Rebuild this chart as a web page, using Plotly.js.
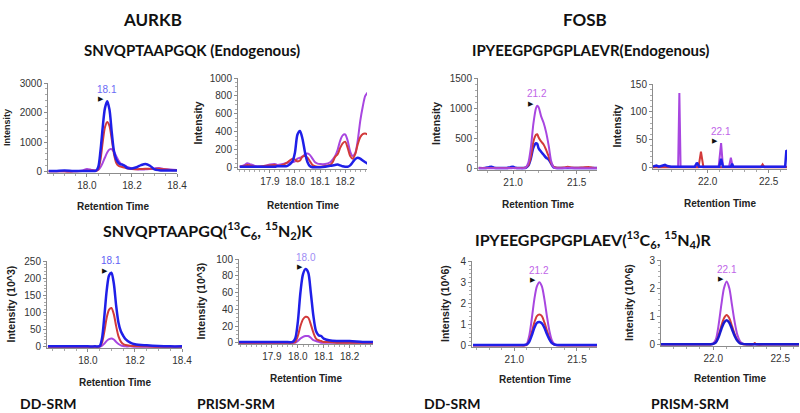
<!DOCTYPE html>
<html><head><meta charset="utf-8">
<script src="https://cdn.plot.ly/plotly-3.0.1.min.js"></script>
<style>html,body{margin:0;padding:0;background:#fff}#c{width:800px;height:413px}</style>
</head><body><div id="c"></div>
<script>
// ---------- DATA ----------
// Panel 1: AURKB endogenous, DD-SRM
const p1_x = [17.83,17.86,17.9,17.94,17.98,18.0,18.02,18.04,18.05,18.06,18.07,18.08,18.09,18.1,18.11,18.12,18.13,18.14,18.15,18.16,18.17,18.18,18.2,18.22,18.24,18.26,18.28,18.3,18.32,18.34,18.37,18.4];
const p1_blue = [20,20,40,20,20,20,20,30,150,700,1500,2150,2380,2100,1350,700,420,300,250,230,180,120,110,150,220,260,200,80,50,40,40,40];
const p1_red = [10,10,10,10,20,30,40,30,80,400,1000,1500,1680,1550,1100,600,300,200,170,150,130,110,90,80,90,100,100,90,100,80,60,50];
const p1_purple = [10,10,10,10,40,90,60,40,60,150,300,480,650,750,760,680,520,380,280,230,200,160,110,80,70,80,90,110,120,90,70,60];
// Panel 2: AURKB endogenous, PRISM-SRM
const p2_x = [17.78,17.8,17.81,17.82,17.84,17.86,17.88,17.9,17.92,17.93,17.95,17.97,17.99,18.0,18.01,18.02,18.03,18.04,18.05,18.06,18.07,18.08,18.09,18.1,18.12,18.14,18.15,18.16,18.17,18.18,18.19,18.2,18.21,18.22,18.23,18.24,18.25,18.26,18.27,18.28,18.29];
const p2_blue = [10,10,10,10,10,10,10,10,10,15,15,20,70,170,370,410,320,170,60,15,5,5,5,5,10,20,25,30,35,25,15,10,10,25,60,95,110,100,80,60,45];
const p2_red = [10,20,30,25,10,10,20,25,30,20,30,60,100,90,70,80,125,130,110,70,30,15,10,10,20,30,60,120,150,220,270,290,220,130,100,150,260,340,375,380,370];
const p2_purple = [10,30,50,40,20,15,20,35,40,30,40,55,60,70,100,110,120,150,157,140,100,60,45,40,40,60,90,130,200,300,360,370,300,180,130,160,300,520,680,800,840];
// Panel 3: FOSB endogenous, DD-SRM
const p3_x = [20.73,20.78,20.81,20.83,20.85,20.9,20.95,20.98,21.0,21.02,21.05,21.08,21.1,21.12,21.14,21.16,21.18,21.19,21.2,21.22,21.24,21.26,21.28,21.3,21.32,21.35,21.4,21.43,21.46,21.5,21.55,21.6,21.63,21.66];
const p3_blue = [10,10,25,30,15,10,10,25,30,15,10,10,15,50,170,350,420,410,340,280,230,180,150,80,20,10,10,10,10,10,10,10,10,10];
const p3_red = [10,10,10,10,10,10,10,10,10,10,10,10,20,60,200,450,560,570,520,450,400,310,200,90,30,15,20,30,20,15,20,25,15,10];
const p3_purple = [5,5,5,5,5,5,5,5,10,5,5,5,20,100,350,750,1000,1040,1020,870,760,600,380,120,20,5,10,15,10,5,5,5,5,5];
// Panel 4: FOSB endogenous, PRISM-SRM
const p4_purple_x = [21.552,21.758,21.768,21.778,22.09,22.11,22.125,22.175,22.19,22.205,22.65];
const p4_purple = [2,2,134,2,2,44,2,2,18,2,2];
const p4_red_x = [21.552,21.925,21.945,21.965,22.435,22.45,22.465,22.65];
const p4_red = [1,1,29,1,1,6,1,1];
const p4_blue_x = [21.552,21.58,21.6,21.63,21.65,21.67,21.7,21.895,21.912,21.93,22.095,22.11,22.125,22.19,22.2,22.21,22.635,22.645,22.65];
const p4_blue = [2,4,2,3,5,3,2,2,9,2,2,16,2,2,7,2,2,31,30];
// Panel 5: AURKB heavy, DD-SRM (10^3)
const p5_x = [17.83,17.9,17.95,18.0,18.03,18.05,18.06,18.07,18.08,18.09,18.1,18.11,18.12,18.13,18.14,18.15,18.16,18.18,18.2,18.25,18.3,18.35,18.4];
const p5_blue = [1,1,1,1,1,2,25,90,165,208,216,185,120,70,45,32,22,12,7,4,2,1,1];
const p5_red = [0,0,0,0,0,1,12,45,85,108,113,95,60,30,15,8,5,3,2,1,0,0,0];
const p5_purple = [0,0,0,0,0,0,3,9,17,22,24,21,14,8,4,2,1,1,0,0,0,0,0];
// Panel 6: AURKB heavy, PRISM-SRM (10^3)
const p6_x = [17.77,17.85,17.9,17.95,17.98,17.99,18.0,18.01,18.02,18.03,18.04,18.05,18.06,18.07,18.08,18.09,18.1,18.12,18.15,18.2,18.25,18.29];
const p6_blue = [1,1,1,1,1,5,25,60,82,88,84,60,32,14,9,8,5,3,2,2,1,1];
const p6_red = [0,0,0,0,0,1,8,20,28,31,30,22,12,5,3,2,1,1,0,0,0,0];
const p6_purple = [0,0,0,0,0,0,2,5,7,8,8,6,3,2,1,0,0,0,0,0,0,0];
// Panel 7: FOSB heavy, DD-SRM (10^6)
const p7_x = [20.67,20.8,20.9,21.0,21.05,21.08,21.1,21.12,21.14,21.16,21.18,21.2,21.22,21.24,21.26,21.28,21.3,21.32,21.34,21.4,21.5,21.66];
const p7_blue = [0.04,0.04,0.04,0.04,0.04,0.04,0.06,0.2,0.5,0.85,1.08,1.12,1.05,0.85,0.55,0.3,0.12,0.06,0.04,0.04,0.04,0.04];
const p7_red = [0.01,0.01,0.01,0.01,0.01,0.01,0.05,0.25,0.65,1.1,1.4,1.47,1.4,1.1,0.72,0.36,0.13,0.04,0.02,0.01,0.01,0.01];
const p7_purple = [0.02,0.02,0.02,0.02,0.02,0.02,0.1,0.5,1.3,2.2,2.8,3.0,2.8,2.2,1.4,0.7,0.25,0.08,0.03,0.02,0.02,0.02];
// Panel 8: FOSB heavy, PRISM-SRM (10^6)
const p8_x = [21.61,21.7,21.8,21.9,21.95,21.98,22.0,22.02,22.04,22.06,22.08,22.1,22.12,22.14,22.16,22.18,22.2,22.22,22.25,22.3,22.31,22.32,22.4,22.5,22.64];
const p8_blue = [0.02,0.02,0.02,0.02,0.02,0.02,0.03,0.08,0.27,0.55,0.78,0.87,0.78,0.55,0.31,0.14,0.05,0.03,0.02,0.02,0.02,0.02,0.02,0.02,0.02];
const p8_red = [0.01,0.01,0.01,0.01,0.01,0.01,0.03,0.1,0.33,0.66,0.94,1.05,0.94,0.66,0.38,0.17,0.06,0.02,0.01,0.01,0.06,0.01,0.01,0.01,0.01];
const p8_purple = [0.02,0.02,0.02,0.02,0.02,0.02,0.05,0.2,0.7,1.4,2.0,2.24,2.0,1.4,0.8,0.35,0.12,0.04,0.02,0.02,0.02,0.02,0.02,0.02,0.02];

// Text
const gene_titles = ["AURKB", "FOSB"];
const peptide_titles = ["SNVQPTAAPGQK (Endogenous)", "IPYEEGPGPGPLAEVR(Endogenous)",
  "SNVQPTAAPGQ(<sup>13</sup>C<sub>6</sub>, <sup>15</sup>N<sub>2</sub>)K",
  "IPYEEGPGPGPLAEV(<sup>13</sup>C<sub>6</sub>, <sup>15</sup>N<sub>4</sub>)R"];
const method_labels = ["DD-SRM", "PRISM-SRM", "DD-SRM", "PRISM-SRM"];
const y_titles = ["Intensity","Intensity","Intensity","Intensity","Intensity (10^3)","Intensity (10^3)","Intensity (10^6)","Intensity (10^6)"];
const x_title = "Retention Time";

// ---------- STYLE / LAYOUT ----------
const W = 800, H = 413;
const BLUE = "#1f1fe8", RED = "#d23a3a", PURPLE = "#a846e0";
const AXF = "Liberation Sans, Arial, sans-serif";
const panels = [
  {box:[48,177,83,173], xr:[17.827,18.4], ytop:3000, ydt:1000, ymin:200, xt:[18.0,18.2,18.4], xmin:0.05,
   tr:[[p1_x,p1_purple,PURPLE],[p1_x,p1_red,RED],[p1_x,p1_blue,BLUE]], pk:2, lc:"#6b6bf5", yfs:9, yo:41, xo:34},
  {box:[238,367,78,169], xr:[17.773,18.287], ytop:1000, ydt:200, ymin:50, xt:[17.9,18.0,18.1,18.2], xmin:0.02,
   tr:[[p2_x,p2_purple,PURPLE],[p2_x,p2_red,RED],[p2_x,p2_blue,BLUE]], pk:null, yfs:10.5, yo:41, xo:36},
  {box:[478,597,78,170], xr:[20.724,21.66], ytop:1500, ydt:500, ymin:100, xt:[21.0,21.5], xmin:0.1,
   tr:[[p3_x,p3_blue,BLUE],[p3_x,p3_red,RED],[p3_x,p3_purple,PURPLE]], pk:2, lc:"#c065e8", yfs:10.5, yo:42, xo:34},
  {box:[653,787,84,169], xr:[21.552,22.65], ytop:150, ydt:50, ymin:10, xt:[22.0,22.5], xmin:0.1, lin:true,
   tr:[[p4_purple_x,p4_purple,PURPLE],[p4_red_x,p4_red,RED],[p4_blue_x,p4_blue,BLUE]], pk:0, win:[22.0,22.2], lc:"#c065e8", yfs:10.5, yo:37, xo:34},
  {box:[47,182,261,348], xr:[17.826,18.4], ytop:250, ydt:50, ymin:10, xt:[18.0,18.2,18.4], xmin:0.05,
   tr:[[p5_x,p5_purple,PURPLE],[p5_x,p5_red,RED],[p5_x,p5_blue,BLUE]], pk:2, lc:"#5f5ff5", yfs:10.5, yo:37, xo:34},
  {box:[239,373,259,344], xr:[17.773,18.29], ytop:100, ydt:20, ymin:5, xt:[17.9,18.0,18.1,18.2], xmin:0.02,
   tr:[[p6_x,p6_purple,PURPLE],[p6_x,p6_red,RED],[p6_x,p6_blue,BLUE]], pk:2, lc:"#9d8df5", yfs:10.5, yo:39, xo:34},
  {box:[472,597,261,347], xr:[20.662,21.66], ytop:4, ydt:1, ymin:0.2, xt:[21.0,21.5], xmin:0.1,
   tr:[[p7_x,p7_purple,PURPLE],[p7_x,p7_red,RED],[p7_x,p7_blue,BLUE]], pk:0, lc:"#c065e8", yfs:10.5, yo:27, xo:32},
  {box:[661,799,260,346], xr:[21.61,22.64], ytop:3, ydt:1, ymin:0.2, xt:[22.0,22.5], xmin:0.1,
   tr:[[p8_x,p8_purple,PURPLE],[p8_x,p8_red,RED],[p8_x,p8_blue,"#1a1ad0"]], pk:0, lc:"#c065e8", yfs:10.5, yo:32, xo:32}
];

const data = [], annotations = [];
const layout = {width:W, height:H, margin:{l:0,r:0,t:0,b:0}, showlegend:false,
  paper_bgcolor:"#fff", plot_bgcolor:"#fff", font:{family:AXF, color:"#333", size:10}};

panels.forEach((p, i) => {
  const n = i + 1, xa = "x" + (n===1?"":n), ya = "y" + (n===1?"":n);
  const [x0,x1,y0,y1] = p.box;
  const axCommon = {showline:true, linecolor:"#8c8c8c", linewidth:1, showgrid:false, zeroline:false,
    ticks:"outside", ticklen:3, tickcolor:"#8c8c8c", tickfont:{size:10, color:"#333", family:AXF}, fixedrange:true};
  layout["xaxis"+(n===1?"":n)] = Object.assign({}, axCommon, {
    domain:[x0/W, x1/W], range:p.xr, anchor:ya, tickmode:"array", tickvals:p.xt, tickformat:".1f",
    minor:{ticks:"outside", ticklen:2, tickcolor:"#aaa", dtick:p.xmin, tick0:p.xt[0]}
  });
  layout["yaxis"+(n===1?"":n)] = Object.assign({}, axCommon, {
    domain:[1 - y1/H, 1 - y0/H], range:[-0.015*p.ytop, p.ytop], anchor:xa, tick0:0, dtick:p.ydt,
    minor:{ticks:"outside", ticklen:2, tickcolor:"#aaa", dtick:p.ymin, tick0:0}
  });
  // axis titles
  annotations.push({xref:xa+" domain", yref:ya+" domain", x:0.5, y:0, yanchor:"middle", xanchor:"center",
    yshift:-p.xo, text:"<b>"+x_title+"</b>", showarrow:false, font:{size:10, color:"#222", family:AXF}});
  annotations.push({xref:xa+" domain", yref:ya+" domain", x:0, y:0.5, yanchor:"middle", xanchor:"center",
    xshift:-p.yo, textangle:-90, text:"<b>"+y_titles[i]+"</b>", showarrow:false, font:{size:p.yfs, color:"#222", family:AXF}});
  p.tr.forEach(t => {
    data.push({type:"scatter", mode:"lines", x:t[0], y:t[1], xaxis:xa, yaxis:ya,
      line:{color:t[2], width: (t[2]===RED || t[2]===PURPLE) ? 2 : 2.5, shape: p.lin ? "linear" : "spline", smoothing:0.8},
      hoverinfo:"skip"});
  });
  if (p.pk !== null && p.pk !== undefined) {
    const t = p.tr[p.pk];
    let bi = -1;
    t[1].forEach((v, k) => {
      const xv = t[0][k];
      if (p.win && (xv < p.win[0] || xv > p.win[1])) return;
      if (bi < 0 || v > t[1][bi]) bi = k;
    });
    const px = t[0][bi], py = t[1][bi];
    annotations.push({xref:xa, yref:ya, x:px, y:py, text:px.toFixed(1), showarrow:false,
      yshift:12, font:{size:10, color:p.lc, family:AXF}});
    annotations.push({xref:xa, yref:ya, x:px, y:py, text:"▶", showarrow:false,
      xshift:-6, yshift:2, font:{size:7, color:"#111", family:"DejaVu Sans"}});
  }
});

// Figure titles (paper coords from pixel positions)
function pa(text, cx, cy, size){
  annotations.push({xref:"paper", yref:"paper", x:cx/W, y:1-cy/H, xanchor:"center", yanchor:"middle",
    text:"<b>"+text+"</b>", showarrow:false, font:{family:"Lato, Carlito, sans-serif", size:size, color:"#111"}});
}
pa(gene_titles[0], 152, 20, 17);
pa(gene_titles[1], 585, 19, 17);
pa(peptide_titles[0], 192, 50, 15);
pa(peptide_titles[1], 590, 50, 15);
pa(peptide_titles[2], 208, 230, 16);
pa(peptide_titles[3], 593, 240, 16);
pa(method_labels[0], 48, 403, 14);
pa(method_labels[1], 236, 403, 14);
pa(method_labels[2], 452, 403, 14);
pa(method_labels[3], 690, 403, 14);

layout.annotations = annotations;
Plotly.newPlot("c", data, layout, {staticPlot:true, displayModeBar:false});
</script></body></html>
